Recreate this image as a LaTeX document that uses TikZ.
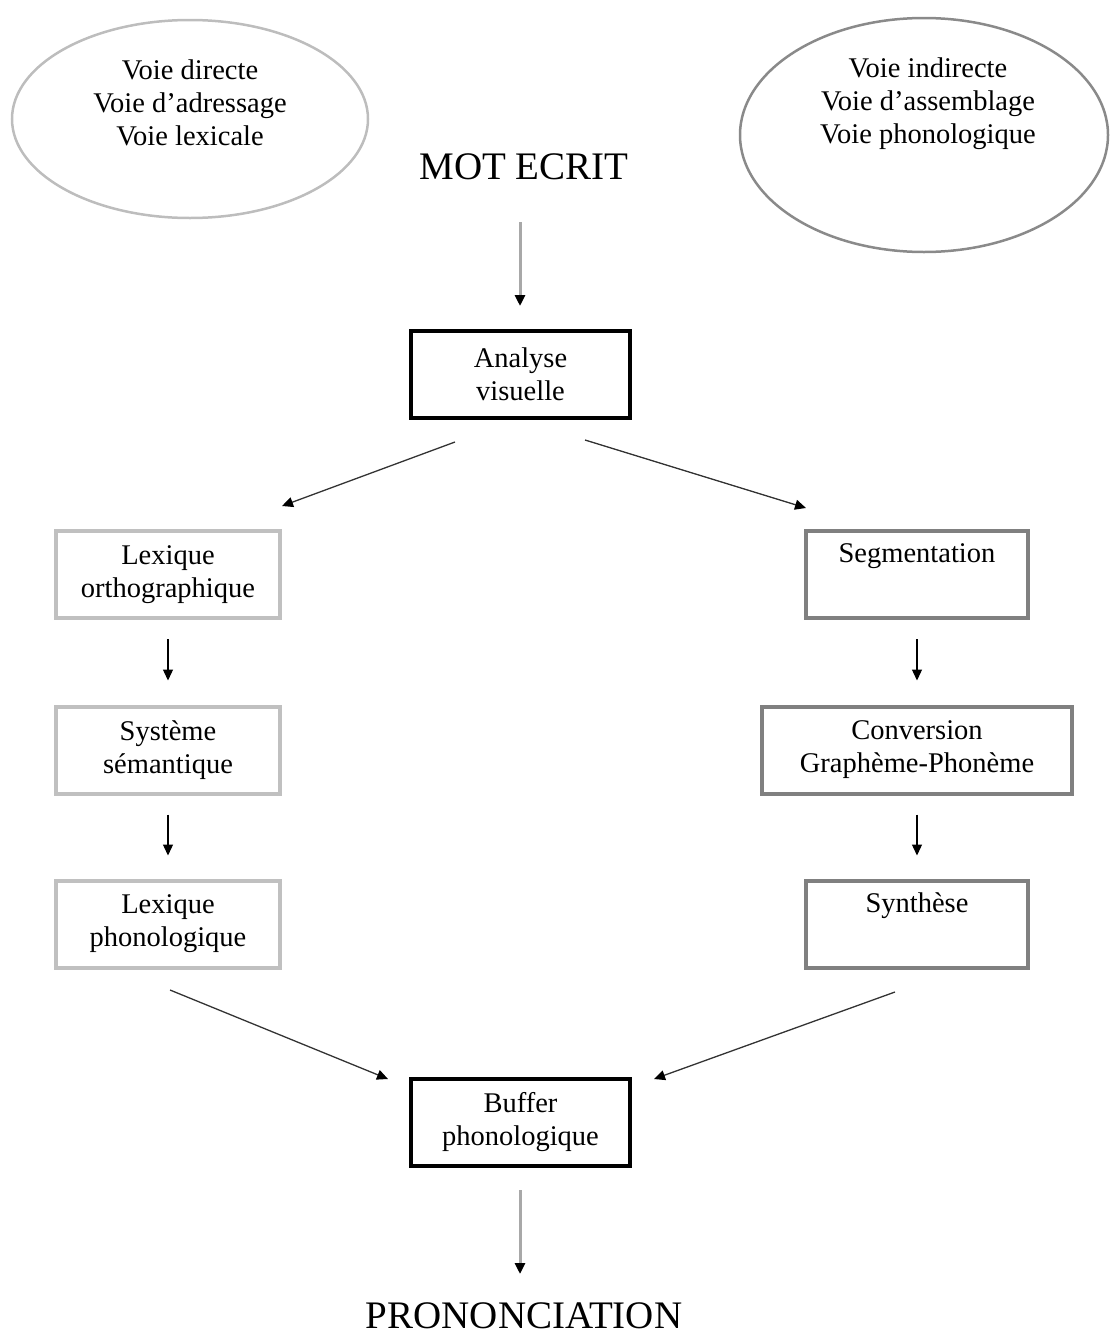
\documentclass[tikz,border=0pt]{standalone}
\usepackage{fontspec}
\setmainfont{Liberation Serif}
\usetikzlibrary{arrows.meta}
\begin{document}
\begin{tikzpicture}[x=1pt,y=-1pt,
  txt/.style={font=\fontsize{28.5}{33}\selectfont, align=center, inner sep=0pt},
  bigtxt/.style={font=\fontsize{39}{44}\selectfont, inner sep=0pt},
  blackbox/.style={draw=black, line width=4pt, minimum width=219pt, minimum height=87pt, txt},
  lightbox/.style={draw=lightgray, line width=4pt, minimum width=224pt, minimum height=87pt, txt},
  darkbox/.style={draw=darkgray, line width=4pt, minimum height=87pt, txt},
  lightell/.style={draw=ellgray1, line width=2.5pt},
  darkell/.style={draw=ellgray2, line width=2.5pt},
  tip/.style={-{Triangle[length=11pt,width=10pt,color=black]}},
  grayarrow/.style={tip, draw=arrgray, line width=3pt},
  thinarrow/.style={tip, draw=black, line width=1.3pt},
  diagarrow/.style={tip, draw=black!80, line width=1.3pt}
]
\definecolor{lightgray}{HTML}{C0C0C0}
\definecolor{darkgray}{HTML}{808080}
\definecolor{ellgray1}{HTML}{BDBDBD}
\definecolor{ellgray2}{HTML}{8A8A8A}
\definecolor{arrgray}{HTML}{A8A8A8}
\useasboundingbox (0,0) rectangle (1112,1339);

% ellipses
\draw[lightell] (190,119) ellipse [x radius=178, y radius=99];
\node[txt] (eL) at (190,103) {Voie directe\\Voie d'adressage\\Voie lexicale};
\draw[darkell] (924,135) ellipse [x radius=184, y radius=117];
\node[txt] (eR) at (928,104) {Voie indirecte\\Voie d'assemblage\\Voie phonologique};

% top / bottom labels
\node[bigtxt] (mot) at (524,167) {MOT ECRIT};
\node[bigtxt] (pron) at (524,1316) {PRONONCIATION};

% central boxes
\node[blackbox] (ana) at (520.5,374.5) {Analyse\\visuelle};
\node[blackbox] (buf) at (520.5,1122.5) {Buffer\\phonologique};

% left column
\node[lightbox] (lo) at (168,574.5) {Lexique\\orthographique};
\node[lightbox] (ss) at (168,750) {Système\\sémantique};
\node[lightbox] (lp) at (168,924) {Lexique\\phonologique};

% right column
\node[darkbox, minimum width=222pt] (seg) at (917,574.5) {Segmentation\\\strut};
\node[darkbox, minimum width=310pt] (cgp) at (917,750) {Conversion\\Graphème-Phonème};
\node[darkbox, minimum width=222pt] (syn) at (917,924) {Synthèse\\\strut};

% coordinates for free arrow ends
\coordinate (a1s) at (520,222);
\coordinate (a1e) at (520,306);
\coordinate (dl1s) at (455,442);
\coordinate (dl1e) at (282,506);
\coordinate (dr1s) at (585,440);
\coordinate (dr1e) at (806,508);
\coordinate (dl2s) at (170,990);
\coordinate (dl2e) at (388,1079);
\coordinate (dr2s) at (895,992);
\coordinate (dr2e) at (654,1079);
\coordinate (a2s) at (520,1190);
\coordinate (a2e) at (520,1274);

\draw[grayarrow] (a1s) -- (a1e);
\draw[grayarrow] (a2s) -- (a2e);
\draw[diagarrow] (dl1s) -- (dl1e);
\draw[diagarrow] (dr1s) -- (dr1e);
\draw[diagarrow] (dl2s) -- (dl2e);
\draw[diagarrow] (dr2s) -- (dr2e);

% column arrows
\draw[thinarrow] ([yshift=-19pt]lo.south) -- ([yshift=24pt]ss.north);
\draw[thinarrow] ([yshift=-19pt]ss.south) -- ([yshift=23pt]lp.north);
\draw[thinarrow] ([yshift=-19pt]seg.south) -- ([yshift=24pt]cgp.north);
\draw[thinarrow] ([yshift=-19pt]cgp.south) -- ([yshift=23pt]syn.north);
\end{tikzpicture}
\end{document}
